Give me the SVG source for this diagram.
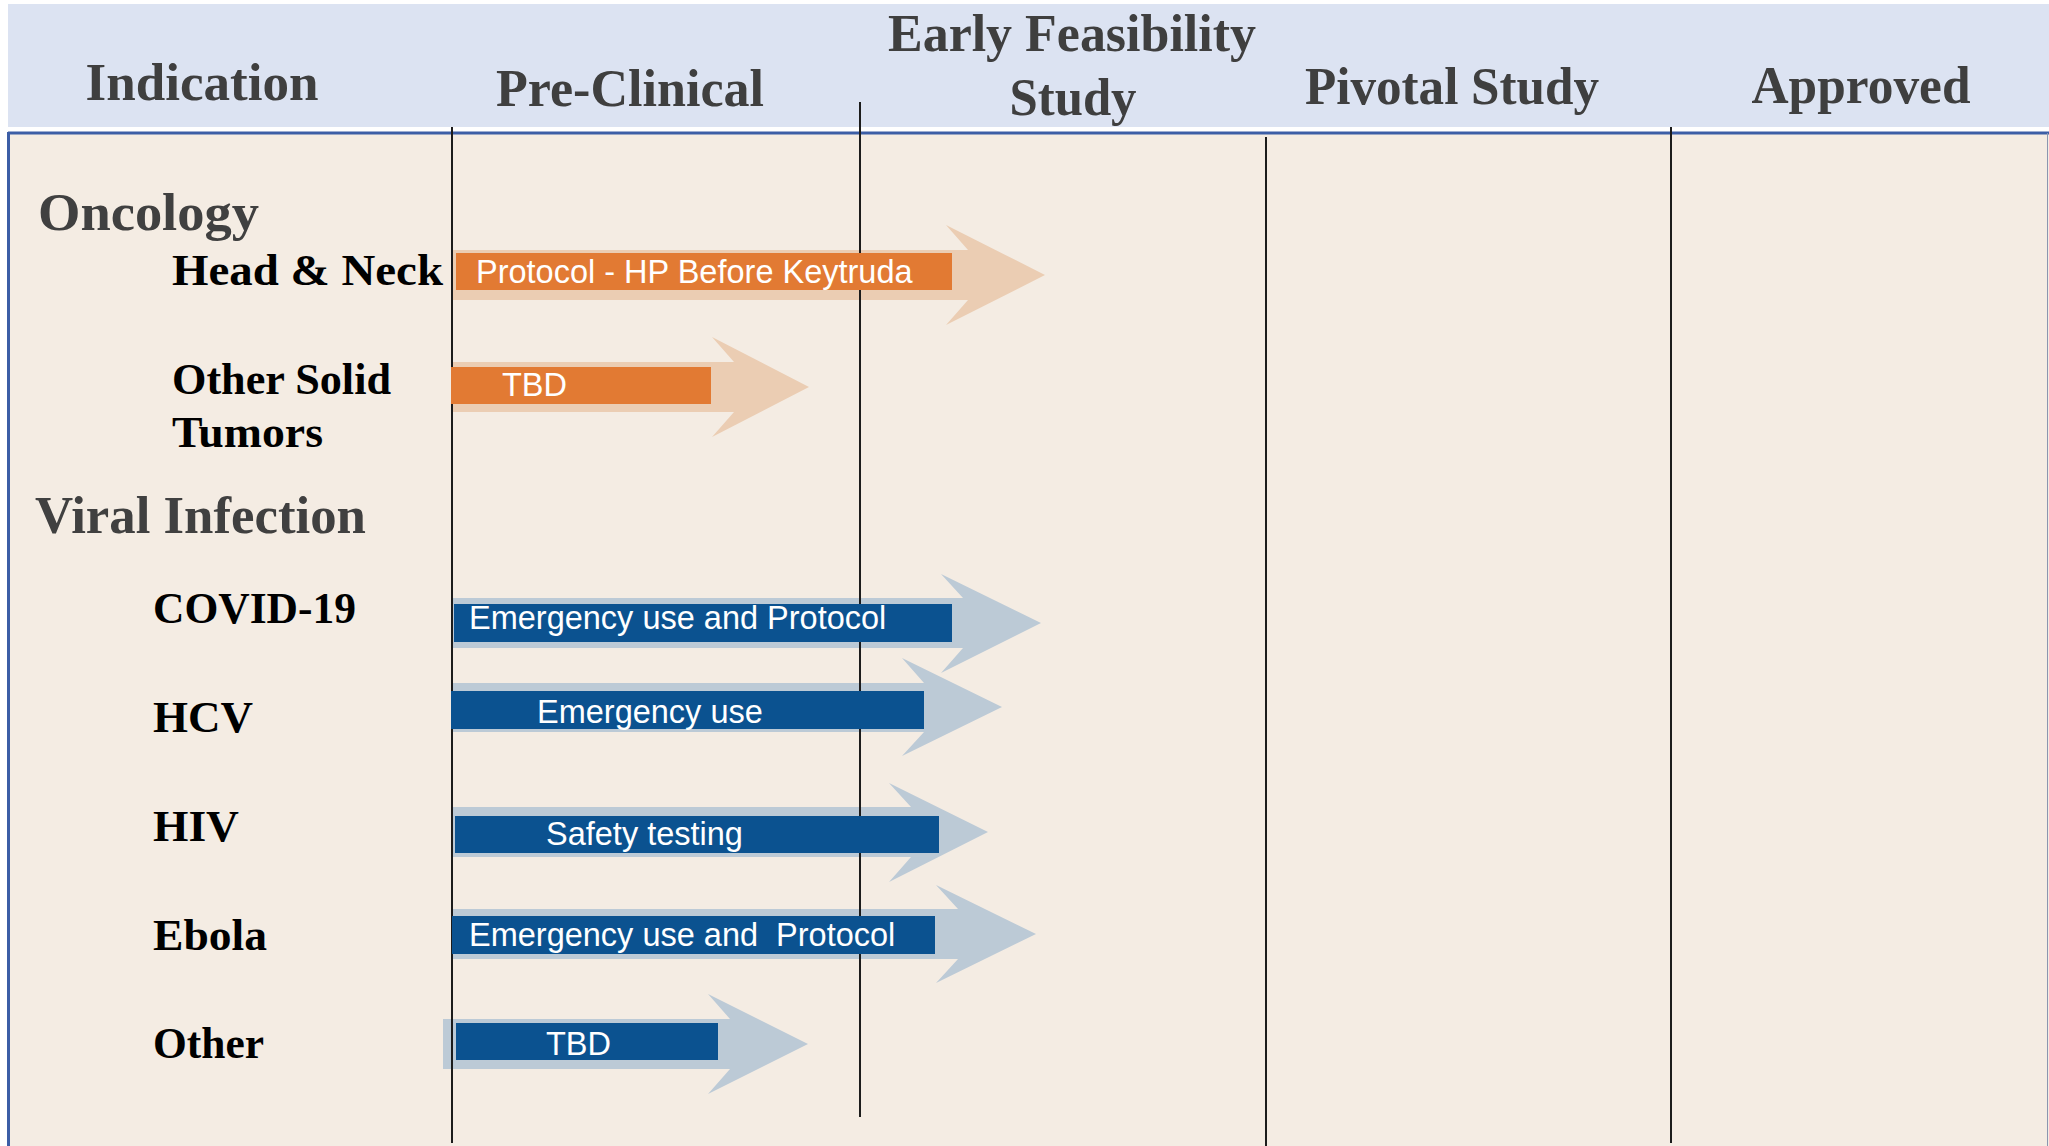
<svg xmlns="http://www.w3.org/2000/svg" width="2049" height="1146" viewBox="0 0 2049 1146">
<style>
.hdr{font-family:"Liberation Serif","Times New Roman",serif;font-weight:bold;font-size:52px;fill:#3f3f3f;text-anchor:middle}
.cat{font-family:"Liberation Serif","Times New Roman",serif;font-weight:bold;font-size:53px;fill:#404040}
.lbl{font-family:"Liberation Serif","Times New Roman",serif;font-weight:bold;font-size:45px;fill:#000}
.bar{font-family:"Liberation Sans",Arial,sans-serif;font-size:32.5px;fill:#fff;white-space:pre}
.shO{fill:#ebcdb3}
.shB{fill:#bccad6}
.rO{fill:#e27a33}
.rB{fill:#0b5290}
.grid{stroke:#1c1c1c;stroke-width:2}
</style>
<rect x="0" y="0" width="2049" height="1146" fill="#ffffff"/>
<g id="header">
<rect x="8" y="4" width="2041" height="123" fill="#dce3f2"/>
<text class="hdr" x="202" y="100" textLength="233" lengthAdjust="spacingAndGlyphs">Indication</text>
<text class="hdr" x="630" y="106" textLength="268" lengthAdjust="spacingAndGlyphs">Pre-Clinical</text>
<text class="hdr" x="1072" y="51" textLength="368" lengthAdjust="spacingAndGlyphs">Early Feasibility</text>
<text class="hdr" x="1073" y="115" textLength="127" lengthAdjust="spacingAndGlyphs">Study</text>
<text class="hdr" x="1452" y="104" textLength="294" lengthAdjust="spacingAndGlyphs">Pivotal Study</text>
<text class="hdr" x="1861" y="103" textLength="219" lengthAdjust="spacingAndGlyphs">Approved</text>
</g>
<g id="body">
<rect x="8" y="133" width="2041" height="1013" fill="#f4ece3"/>
<line x1="8" y1="133" x2="2049" y2="133" stroke="#3c5ea6" stroke-width="3"/>
<line x1="8.5" y1="132" x2="8.5" y2="1146" stroke="#3c5ea6" stroke-width="3"/>
<line x1="2047.5" y1="133" x2="2047.5" y2="1146" stroke="#8a96b0" stroke-width="1"/>
</g>
<g id="shadows">
<polygon class="shO" points="452,250 968,250 946,225 1045,275 946,325 968,300 452,300"/>
<polygon class="shO" points="452,362 734,362 712,337 809,387 712,437 734,412 452,412"/>
<polygon class="shB" points="452,598 963,598 941,574 1041,623 941,673 963,648 452,648"/>
<polygon class="shB" points="452,683 924,683 902,658 1002,707 902,756 924,732 452,732"/>
<polygon class="shB" points="452,807 911,807 889,783 988,832 889,882 911,857 452,857"/>
<polygon class="shB" points="452,909 958,909 936,885 1036,934 936,983 958,959 452,959"/>
<polygon class="shB" points="443,1019 730,1019 708,994 808,1044 708,1094 730,1069 443,1069"/>
</g>
<g id="connectors">
<line class="grid" x1="452" y1="127" x2="452" y2="1143"/>
<line class="grid" x1="860" y1="102" x2="860" y2="1117"/>
<line class="grid" x1="1266" y1="137" x2="1266" y2="1146"/>
<line class="grid" x1="1671" y1="127" x2="1671" y2="1143"/>
</g>
<g id="oncology">
<text class="cat" x="38" y="230" textLength="221" lengthAdjust="spacingAndGlyphs">Oncology</text>
</g>
<g id="head-neck">
<text class="lbl" x="172" y="285" textLength="271" lengthAdjust="spacingAndGlyphs">Head &amp; Neck</text>
<rect class="rO" x="456" y="253" width="496" height="37"/>
<text class="bar" x="476" y="283">Protocol - HP Before Keytruda</text>
</g>
<g id="other-solid">
<text class="lbl" x="172" y="394" textLength="219" lengthAdjust="spacingAndGlyphs">Other Solid</text>
<text class="lbl" x="172" y="447" textLength="151" lengthAdjust="spacingAndGlyphs">Tumors</text>
<rect class="rO" x="451" y="367" width="260" height="37"/>
<text class="bar" x="502" y="396">TBD</text>
</g>
<g id="viral">
<text class="cat" x="35" y="533" textLength="331" lengthAdjust="spacingAndGlyphs">Viral Infection</text>
</g>
<g id="covid">
<text class="lbl" x="153" y="623" textLength="203" lengthAdjust="spacingAndGlyphs">COVID-19</text>
<rect class="rB" x="454" y="604" width="498" height="38"/>
<text class="bar" x="469" y="629">Emergency use and Protocol</text>
</g>
<g id="hcv">
<text class="lbl" x="153" y="732" textLength="100" lengthAdjust="spacingAndGlyphs">HCV</text>
<rect class="rB" x="451" y="691" width="473" height="38"/>
<text class="bar" x="537" y="723">Emergency use</text>
</g>
<g id="hiv">
<text class="lbl" x="153" y="841" textLength="86" lengthAdjust="spacingAndGlyphs">HIV</text>
<rect class="rB" x="455" y="816" width="484" height="37"/>
<text class="bar" x="546" y="845">Safety testing</text>
</g>
<g id="ebola">
<text class="lbl" x="153" y="950" textLength="114" lengthAdjust="spacingAndGlyphs">Ebola</text>
<rect class="rB" x="452" y="916" width="483" height="38"/>
<text class="bar" x="469" y="946">Emergency use and  Protocol</text>
</g>
<g id="other">
<text class="lbl" x="153" y="1058" textLength="111" lengthAdjust="spacingAndGlyphs">Other</text>
<rect class="rB" x="456" y="1023" width="262" height="37"/>
<text class="bar" x="546" y="1055">TBD</text>
</g>
</svg>
